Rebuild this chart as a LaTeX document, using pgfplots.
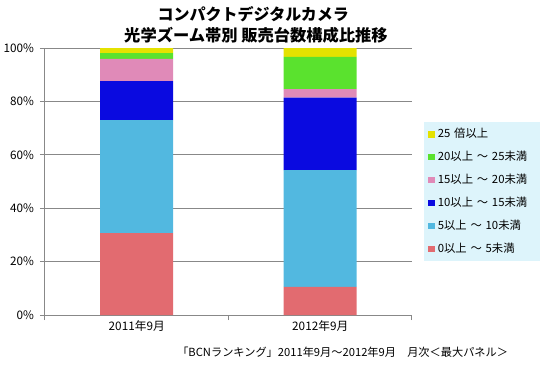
\documentclass[border=0pt]{standalone}
\usepackage{fontspec}
\setmainfont{Noto Sans CJK JP}
\usepackage{pgfplots}
\pgfplotsset{compat=1.18}
\definecolor{cYel}{RGB}{228,226,0}
\definecolor{cGrn}{RGB}{90,226,46}
\definecolor{cPnk}{RGB}{224,138,184}
\definecolor{cBlu}{RGB}{10,10,224}
\definecolor{cLbl}{RGB}{82,184,224}
\definecolor{cRed}{RGB}{226,107,112}
\definecolor{cLeg}{RGB}{221,244,251}
\definecolor{cGrid}{RGB}{136,136,136}
\begin{document}
\begin{tikzpicture}[x=1pt,y=1pt]
\path[use as bounding box] (0,0) rectangle (405,273.75);
\node[font=\fontsize{12}{14}\selectfont\bfseries, anchor=center] at (190,263.25) {コンパクトデジタルカメラ};
\node[font=\fontsize{12.2}{14}\selectfont\bfseries, anchor=center] at (192,247.5) {光学ズーム帯別 販売台数構成比推移};
\begin{axis}[
  at={(33.75pt,37.5pt)}, anchor=south west,
  scale only axis, width=275.25pt, height=200.25pt,
  ybar stacked, bar width=54.75pt,
  xmin=-0.5, xmax=1.5, ymin=0, ymax=100,
  axis x line*=bottom, axis y line*=left,
  axis line style={cGrid, line width=0.75pt},
  xtick={-0.5,0.5,1.5}, xticklabels={},
  extra x ticks={0,1}, extra x tick labels={2011年9月,2012年9月},
  extra x tick style={major tick length=0pt, grid=none},
  ytick={0,20,40,60,80,100},
  yticklabels={0\%,20\%,40\%,60\%,80\%,100\%},
  tick align=outside, major tick length=3.75pt,
  tick style={cGrid, line width=0.75pt},
  ymajorgrids, grid style={cGrid, line width=0.75pt},
  tick label style={font=\fontsize{8.8}{10}\selectfont, text=black},
  /pgf/number format/assume math mode=true,
  xticklabel style={yshift=-0.5pt},
  yticklabel style={xshift=-1pt},
  reverse legend,
  legend style={at={(1.0327,0.7228)}, anchor=north west, fill=cLeg, draw=none,
    font=\fontsize{8.5}{10}\selectfont, row sep=4.6pt, inner xsep=3pt, inner ysep=2.5pt,
    text width=78pt},
  legend cell align=left,
  legend image code/.code={\draw[#1, draw=none] (0pt,-2.6pt) rectangle (5.2pt,2.6pt);},
]
\addplot[fill=cRed, draw=none] coordinates {(0,30.7) (1,10.5)};
\addplot[fill=cLbl, draw=none] coordinates {(0,42.3) (1,43.8)};
\addplot[fill=cBlu, draw=none] coordinates {(0,14.6) (1,27.1)};
\addplot[fill=cPnk, draw=none] coordinates {(0,8.3) (1,3.2)};
\addplot[fill=cGrn, draw=none] coordinates {(0,2.2) (1,12.1)};
\addplot[fill=cYel, draw=none] coordinates {(0,1.9) (1,3.3)};
\legend{0以上 ～ 5未満,5以上 ～ 10未満,10以上 ～ 15未満,15以上 ～ 20未満,20以上 ～ 25未満,25 倍以上}
\end{axis}
\node[font=\fontsize{8.4}{10}\selectfont, anchor=center] at (257,9.75) {「BCNランキング」2011年9月～2012年9月　月次＜最大パネル＞};
\end{tikzpicture}
\end{document}
